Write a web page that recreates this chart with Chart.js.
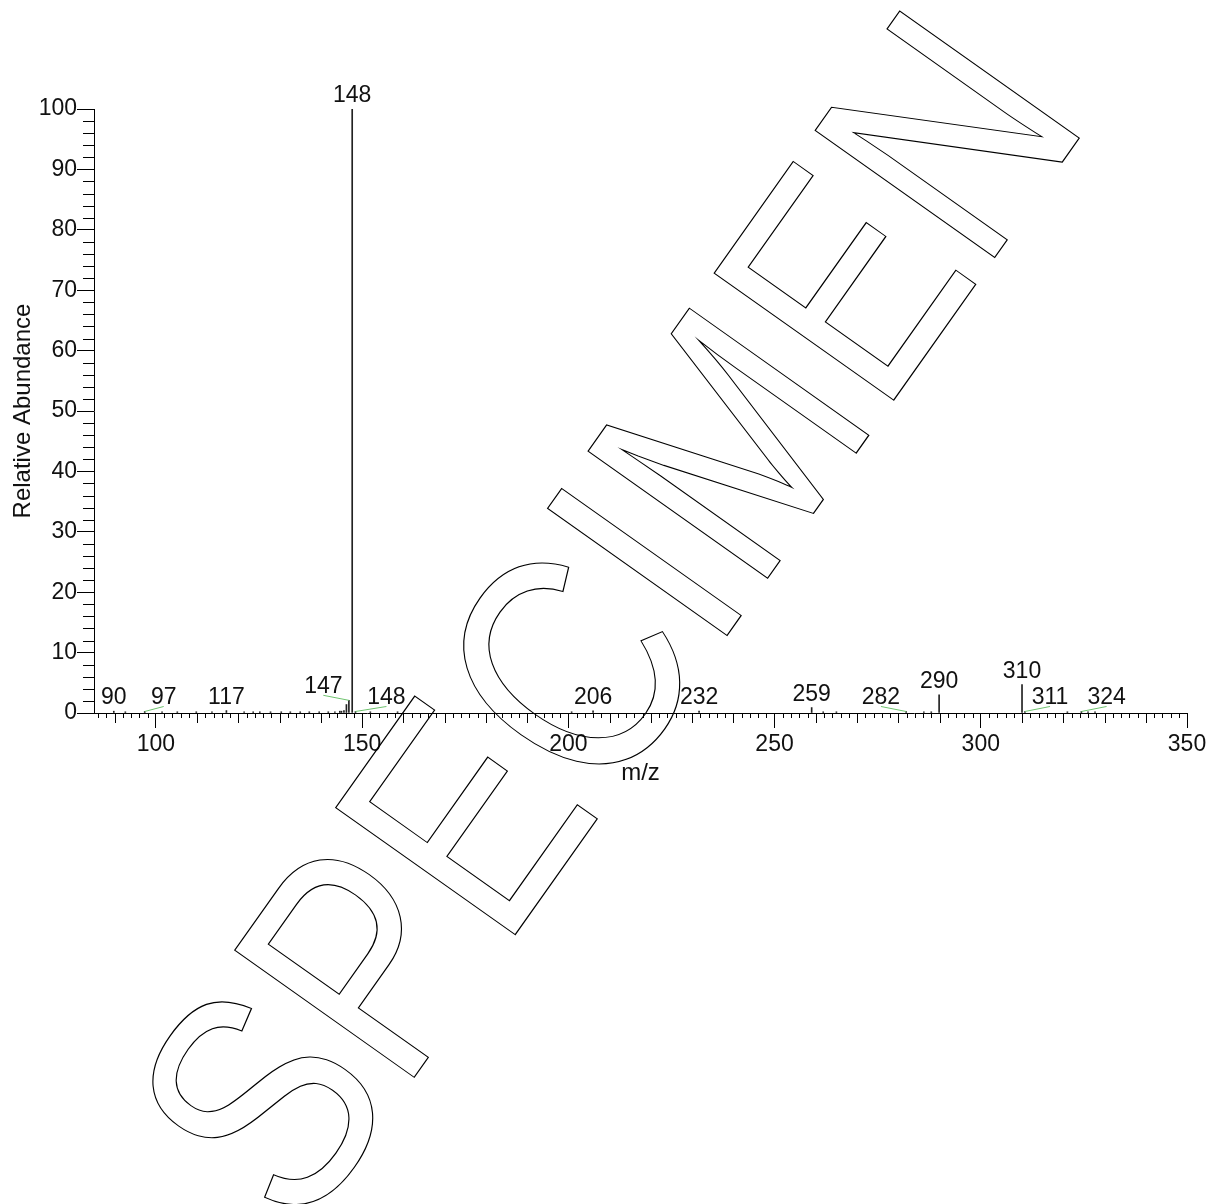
<!DOCTYPE html>
<html>
<head>
<meta charset="utf-8">
<script src="https://cdn.jsdelivr.net/npm/chart.js@4/dist/chart.umd.min.js"></script>
<style>
html, body { margin: 0; padding: 0; background: #fff; }
#wrap { width: 1219px; height: 1204px; }
</style>
</head>
<body>
<div id="wrap"><canvas id="spectrum" width="1219" height="1204"></canvas></div>
<script>
// spectrum sticks (m/z, relative abundance %)
var mzValues = [89.8, 92.6, 97.3, 101.5, 105.2, 109.8, 113.6, 117.1, 121.4, 123.6, 125.2, 127.8,
    130.4, 132.6, 135.0, 137.2, 139.6, 141.8, 143.4, 144.6, 145.0, 145.6, 146.2, 146.8, 147.6, 148.4,
    152.0, 158.6, 200.8, 206.0, 231.7, 259.0, 261.8, 265.0, 281.9, 286.2, 288.0, 289.9, 310.0, 310.7,
    321.0, 324.4, 326.0, 327.7];
var abundance = [0.3, 0.2, 0.25, 0.2, 0.2, 0.2, 0.2, 0.4, 0.2, 0.2, 0.2, 0.2,
    0.2, 0.2, 0.2, 0.2, 0.2, 0.2, 0.2, 0.3, 0.3, 0.4, 1.4, 2.1, 100, 0.25,
    0.2, 0.2, 0.2, 0.35, 0.3, 0.9, 0.2, 0.2, 0.25, 0.2, 0.2, 3.0, 4.7, 0.25,
    0.2, 0.25, 0.2, 0.2];
var peakLabels = ['90', '', '97', '', '', '', '', '117', '', '', '', '',
    '', '', '', '', '', '', '', '', '', '', '', '147', '148', '148',
    '', '', '', '206', '232', '259', '', '', '282', '', '', '290', '310', '311',
    '', '324', '', ''];
var xTickValues = [100, 150, 200, 250, 300, 350];
var yTickValues = [0, 10, 20, 30, 40, 50, 60, 70, 80, 90, 100];

// labels moved sideways (in m/z units), joined to their stick by a leader line
var labelShift = { 2: 4.6, 23: -6.2, 25: 7.5, 34: -6.1, 39: 6.1, 41: 6.1 };

var FONT = '"Liberation Sans", Arial, sans-serif';

var specExtras = {
    id: 'specExtras',
    afterDraw: function (chart) {
        var ctx = chart.ctx;
        var xs = chart.scales.x, ys = chart.scales.y;
        var area = chart.chartArea;
        ctx.save();

        // minor ticks
        ctx.strokeStyle = '#000';
        ctx.lineWidth = 1;
        ctx.beginPath();
        for (var v = 86; v <= 350; v += 2) {
            if (v % 50 === 0) continue;
            var px = Math.round(xs.getPixelForValue(v)) + 0.5;
            var len = (v % 10 === 0) ? 10 : 5;
            ctx.moveTo(px, area.bottom);
            ctx.lineTo(px, area.bottom + len);
        }
        for (var w = 2; w < 100; w += 2) {
            if (w % 10 === 0) continue;
            var py = Math.round(ys.getPixelForValue(w)) + 0.5;
            ctx.moveTo(area.left, py);
            ctx.lineTo(area.left - 11, py);
        }
        ctx.stroke();

        // peak labels
        ctx.font = '23px ' + FONT;
        ctx.textAlign = 'center';
        ctx.textBaseline = 'alphabetic';
        for (var i = 0; i < mzValues.length; i++) {
            if (!peakLabels[i]) continue;
            var x = xs.getPixelForValue(mzValues[i]);
            var top = ys.getPixelForValue(abundance[i]);
            var base = top - 7;
            var lx = x;
            if (labelShift[i] !== undefined) {
                lx = xs.getPixelForValue(mzValues[i] + labelShift[i]);
                ctx.strokeStyle = 'rgb(110,195,110)';
                ctx.beginPath();
                ctx.moveTo(x, top);
                ctx.lineTo(lx, base + 2);
                ctx.stroke();
            }
            ctx.fillStyle = '#111';
            ctx.fillText(peakLabels[i], lx, base);
        }

        // watermark
        ctx.translate(300.8, 1237.5);
        ctx.rotate(-54.7 * Math.PI / 180);
        ctx.scale(1, 1.22);
        ctx.font = '262px ' + FONT;
        ctx.textAlign = 'left';
        ctx.textBaseline = 'alphabetic';
        ctx.strokeStyle = '#000';
        ctx.lineWidth = 1;
        ctx.strokeText('SPECIMEN', 0, 0);
        ctx.restore();
    }
};

var points = mzValues.map(function (m, i) { return { x: m, y: abundance[i] }; });

new Chart(document.getElementById('spectrum').getContext('2d'), {
    type: 'bar',
    data: {
        datasets: [{
            data: points,
            backgroundColor: '#222',
            borderWidth: 0,
            barThickness: 1
        }]
    },
    options: {
        responsive: false,
        animation: false,
        layout: { padding: { left: 0, top: 109, right: 32, bottom: 411 } },
        plugins: { legend: { display: false }, tooltip: { enabled: false } },
        scales: {
            x: {
                type: 'linear', min: 85, max: 350, offset: false,
                afterBuildTicks: function (s) { s.ticks = xTickValues.map(function (v) { return { value: v }; }); },
                afterFit: function (s) { s.height = 80; },
                grid: { drawOnChartArea: false, drawTicks: true, tickLength: 15, tickColor: '#000', offset: false },
                border: { display: true, color: '#000', width: 1 },
                ticks: { color: '#111', font: { family: FONT, size: 23 }, padding: 3, maxRotation: 0, autoSkip: false },
                title: { display: true, text: 'm/z', color: '#111', font: { family: FONT, size: 24 }, padding: { top: 0, bottom: 5 } }
            },
            y: {
                min: 0, max: 100,
                afterBuildTicks: function (s) { s.ticks = yTickValues.map(function (v) { return { value: v }; }); },
                afterFit: function (s) { s.width = 94; },
                grid: { drawOnChartArea: false, drawTicks: true, tickLength: 17, tickColor: '#000' },
                border: { display: true, color: '#000', width: 1 },
                ticks: { color: '#111', font: { family: FONT, size: 23 }, padding: 0 },
                title: { display: true, text: 'Relative Abundance', color: '#111', font: { family: FONT, size: 24 }, padding: { top: 9, bottom: 0 } }
            }
        }
    },
    plugins: [specExtras]
});
</script>
</body>
</html>
